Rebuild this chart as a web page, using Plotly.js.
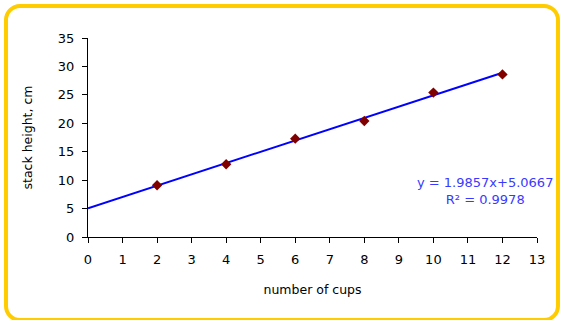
<!DOCTYPE html>
<html><head><meta charset="utf-8">
<script src="https://cdn.plot.ly/plotly-3.0.1.min.js"></script>
<style>
html,body{margin:0;padding:0;background:#fff;}
#wrap{position:relative;width:564px;height:320px;overflow:hidden;}
#chart{position:absolute;left:0;top:0;width:564px;height:320px;}
#frame{position:absolute;left:4px;top:4px;width:548px;height:310px;border:4px solid #FFCC00;border-radius:16px;pointer-events:none;}
</style></head>
<body><div id="wrap"><div id="chart"></div><div id="frame"></div></div>
<script>
var cups = [2, 4, 6, 8, 10, 12];
var heights = [9.1, 12.8, 17.3, 20.4, 25.4, 28.6];
var trendX = [0, 12];
var trendY = [5.0667, 28.8951];
var xTicks = [0,1,2,3,4,5,6,7,8,9,10,11,12,13];
var yTicks = [0,5,10,15,20,25,30,35];
var eqText = "y = 1.9857x+5.0667<br>R² = 0.9978";

var font = "DejaVu Sans, sans-serif";
var traces = [
  {x: trendX, y: trendY, mode: 'lines', line: {color: '#0000FF', width: 2}, hoverinfo: 'skip'},
  {x: cups, y: heights, mode: 'markers', marker: {symbol: 'diamond', size: 8, color: '#800000'}}
];
var layout = {
  width: 564, height: 320,
  margin: {l: 87.5, r: 26.7, t: 38.3, b: 82.7},
  paper_bgcolor: 'rgba(0,0,0,0)', plot_bgcolor: 'rgba(0,0,0,0)',
  showlegend: false,
  font: {family: font, color: '#000'},
  xaxis: {range: [0, 13], tickvals: xTicks, ticks: 'outside', ticklen: 5, tickcolor: '#000',
    showgrid: false, zeroline: false, showline: true, linecolor: '#000', linewidth: 1,
    tickfont: {size: 13, family: font}, ticklabelstandoff: 5,
    title: {text: 'number of cups', font: {size: 12.5, family: font}, standoff: 19}},
  yaxis: {range: [0, 35], tickvals: yTicks, ticks: 'outside', ticklen: 5, tickcolor: '#000',
    showgrid: false, zeroline: false, showline: true, linecolor: '#000', linewidth: 1,
    tickfont: {size: 13, family: font}, ticklabelstandoff: 5,
    title: {text: 'stack height, cm', font: {size: 12.5, family: font}, standoff: 22}},
  annotations: [{xref: 'paper', yref: 'paper', x: 0.884, y: 0.233, text: eqText, showarrow: false,
    font: {size: 13, color: '#3A3AFF', family: font}, align: 'center', xanchor: 'center', yanchor: 'middle'}]
};
Plotly.newPlot('chart', traces, layout, {displayModeBar: false, staticPlot: true});
</script></body></html>
